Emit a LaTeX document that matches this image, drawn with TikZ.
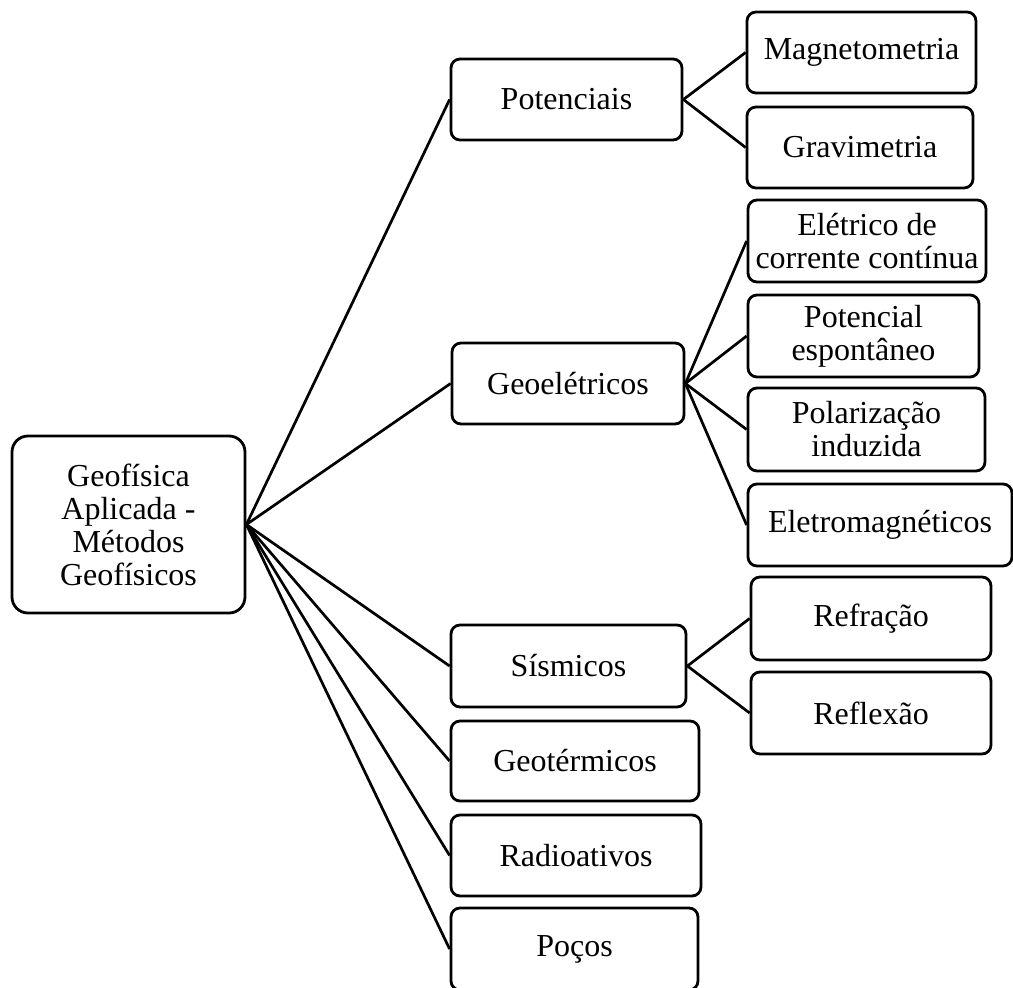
\documentclass[tikz,border=0pt]{standalone}
\usepackage{fontspec}
\setmainfont{Liberation Serif}
\begin{document}
\begin{tikzpicture}[x=1pt,y=-1pt,
  box/.style={draw, line width=2.8pt, rounded corners=9pt, inner sep=0pt, align=center,
    font=\fontsize{32}{33}\selectfont},
  link/.style={line width=2.7pt}]
\useasboundingbox (0,0) rectangle (1013,988);
% root
\node[box, minimum width=233pt, minimum height=177pt, rounded corners=16pt] (root) at (128.5,524.5) {Geofísica\\Aplicada -\\Métodos\\Geofísicos};
% level 1
\node[box, minimum width=231pt, minimum height=81pt] (pot) at (566.5,99.5) {Potenciais};
\node[box, minimum width=232pt, minimum height=81pt] (geoel) at (568,383.5) {Geoelétricos};
\node[box, minimum width=235pt, minimum height=82pt] (sism) at (568.5,666) {Sísmicos};
\node[box, minimum width=248pt, minimum height=80pt] (geot) at (575,761) {Geotérmicos};
\node[box, minimum width=250pt, minimum height=81pt] (radio) at (576,855.5) {Radioativos};
\node[box, minimum width=247pt, minimum height=82pt] (pocos) at (574.5,949) {Poços};
% level 2
\node[box, minimum width=229pt, minimum height=81pt] (magn) at (861.5,52.5) {Magnetometria};
\node[box, minimum width=226pt, minimum height=81pt] (grav) at (860,147.5) {Gravimetria};
\node[box, minimum width=238pt, minimum height=82pt] (elet) at (867,241) {Elétrico de\\corrente contínua};
\node[box, minimum width=231pt, minimum height=82pt] (pesp) at (863.5,336) {Potencial\\espontâneo};
\node[box, minimum width=237pt, minimum height=83pt] (polar) at (866.5,429.5) {Polarização\\induzida};
\node[box, minimum width=264pt, minimum height=82pt] (eletrom) at (880,525) {Eletromagnéticos};
\node[box, minimum width=240pt, minimum height=83pt] (refr) at (871,618.5) {Refração};
\node[box, minimum width=240pt, minimum height=82pt] (refl) at (871,713) {Reflexão};
% connectors
\foreach \n in {pot,geoel,sism,geot,radio,pocos}
  \draw[link] (root.east) -- (\n.west);
\foreach \n in {magn,grav}
  \draw[link] (pot.east) -- (\n.west);
\foreach \n in {elet,pesp,polar,eletrom}
  \draw[link] (geoel.east) -- (\n.west);
\foreach \n in {refr,refl}
  \draw[link] (sism.east) -- (\n.west);
\end{tikzpicture}
\end{document}
